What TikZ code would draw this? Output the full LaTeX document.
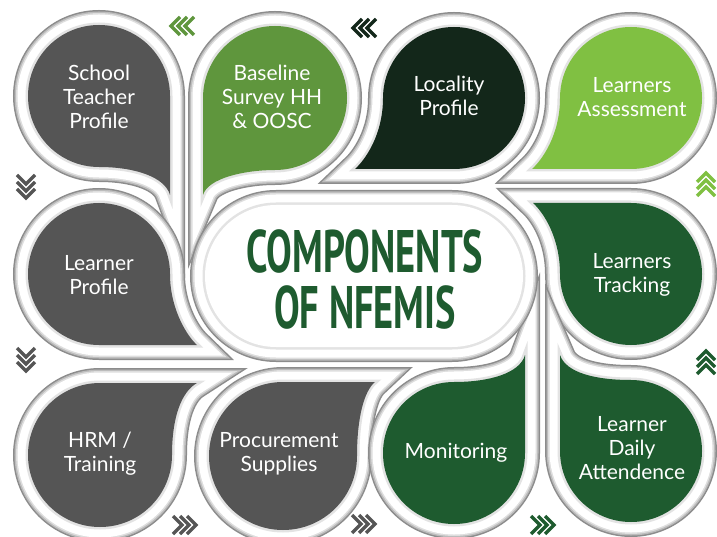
\documentclass[tikz,border=0pt]{standalone}
\usepackage{fontspec}
\setmainfont{Lato}
\newfontfamily\titlefont{PT Sans}
\usepackage{tikz}
\usepackage[dvipsnames]{xcolor}
\usetikzlibrary{calc}
\usetikzlibrary{positioning}

\definecolor{slate}{HTML}{555555}
\definecolor{leafgreen}{HTML}{5F963D}
\definecolor{nightgreen}{HTML}{13271A}
\definecolor{lightleaf}{HTML}{80C042}
\definecolor{forest}{HTML}{1E5B2F}
\definecolor{rimA}{RGB}{140,140,140}
\definecolor{rimB}{RGB}{188,188,188}
\definecolor{rimC}{RGB}{222,222,222}

% three stacked chevrons: position, angle, colour
\newcommand{\chevs}[3]{%
  \begin{scope}[shift={#1}, rotate=#2]
    \foreach \k in {0,1,2}
      \draw[chev, #3] (\k*7-12,-9) -- (\k*7-3,0) -- (\k*7-12,9);
  \end{scope}}

\begin{document}
\begin{tikzpicture}[x=1pt, y=1pt, yscale=-1,
    drop/.style={fill=#1, line join=round,
      preaction={draw=rimA, line width=30},
      preaction={draw=rimB, line width=27},
      preaction={draw=rimC, line width=24},
      preaction={draw=white, line width=21},
      preaction={draw=gray!22, line width=5}},
    lbl/.style={text=white, align=center, font=\fontsize{21}{24}\selectfont},
    title/.style={text=forest, align=center, font=\titlefont\bfseries\fontsize{60}{56}\selectfont},
    chev/.style={line width=3.2, miter limit=10}]
  \useasboundingbox (0,0) rectangle (717,537);
  \fill[white] (0,0) rectangle (717,537);

  % top row
  \path[drop=slate] (170,195) .. controls (165,177) and (135,167) .. (99,167)
    arc[start angle=90, end angle=360, radius=71] -- cycle;
  \path[drop=leafgreen] (203,195) -- (203,98)
    arc[start angle=180, end angle=450, radius=72]
    .. controls (245,170) and (208,178) .. (203,195) -- cycle;
  \path[drop=nightgreen] (355,169) .. controls (365,160) and (383,135) .. (383,98)
    arc[start angle=180, end angle=450, radius=71] -- cycle;
  \path[drop=lightleaf] (532,169) .. controls (542,160) and (560,135) .. (560,98)
    arc[start angle=180, end angle=450, radius=71] -- cycle;

  % middle row
  \path[drop=slate] (197,345) -- (99,345)
    arc[start angle=90, end angle=360, radius=71]
    .. controls (170,309) and (187,336) .. (197,345) -- cycle;
  \path[drop=forest] (533,203) -- (631,203)
    arc[start angle=270, end angle=540, radius=71]
    .. controls (560,237) and (543,212) .. (533,203) -- cycle;

  % bottom row
  \path[drop=slate] (197,383) .. controls (181,392) and (172,418) .. (172,455)
    arc[start angle=0, end angle=270, radius=72] -- cycle;
  \path[drop=slate] (375,382) .. controls (364,391) and (357,418) .. (357,456)
    arc[start angle=0, end angle=270, radius=74] -- cycle;
  \path[drop=forest] (525,355) -- (525,453)
    arc[start angle=0, end angle=270, radius=71]
    .. controls (490,382) and (520,373) .. (525,355) -- cycle;
  \path[drop=forest] (560,355) .. controls (566,373) and (596,380) .. (631,380)
    arc[start angle=270, end angle=540, radius=71] -- cycle;

  % centre pill
  \path[drop=white, rounded corners=71] (205,205) rectangle (523,347);

  \node[lbl] (teacher) at (99,97) {School\\Teacher\\Profile};
  \node[lbl] (baseline) at (272,97) {Baseline\\Survey HH\\\& OOSC};
  \node[lbl] (locality) at (449,96) {Locality\\Profile};
  \node[lbl] (assess) at (632,97) {Learners\\Assessment};
  \node[lbl] (learner) at (99,275) {Learner\\Profile};
  \node[lbl] (tracking) at (632,275) {Learners\\Tracking};
  \node[lbl] (hrm) at (100,454) {HRM /\\Training};
  \node[lbl] (procure) at (279,454) {Procurement\\Supplies};
  \node[lbl] (monitor) at (456,453) {Monitoring};
  \node[lbl] (attend) at (632,448) {Learner\\Daily\\Attendence};

  \node[title] (hub) at (365,279) {\scalebox{0.64}[1]{COMPONENTS}\\\scalebox{0.64}[1]{OF NFEMIS}};

  % arrows round the edge
  \chevs{(182,26)}{180}{leafgreen}
  \chevs{(364,28)}{180}{nightgreen}
  \chevs{(706,184)}{-90}{lightleaf}
  \chevs{(706,362)}{-90}{forest}
  \chevs{(543,525)}{0}{forest}
  \chevs{(364,524)}{0}{slate}
  \chevs{(185,525)}{0}{slate}
  \chevs{(26,360)}{90}{slate}
  \chevs{(26,187)}{90}{slate}
\end{tikzpicture}
\end{document}
